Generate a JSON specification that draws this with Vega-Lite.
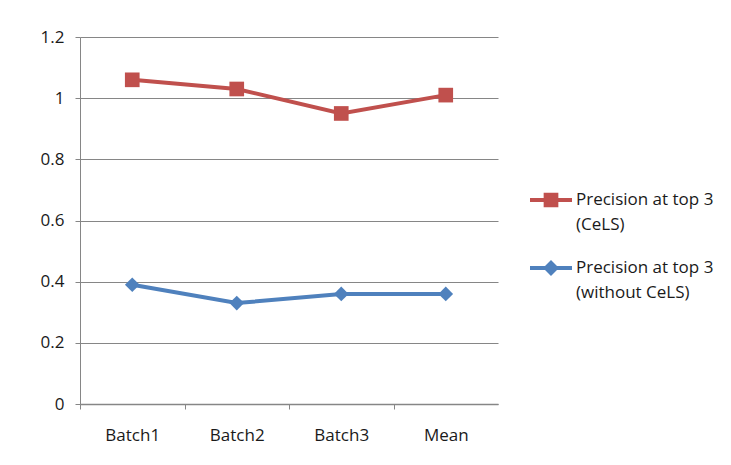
{
  "$schema": "https://vega.github.io/schema/vega-lite/v6.json",
  "width": 418,
  "height": 367,
  "autosize": "none",
  "padding": {"left": 80, "top": 37, "right": 233, "bottom": 61},
  "background": "white",
  "config": {
    "view": {"stroke": null},
    "font": "Open Sans",
    "axis": {"labelFont": "Open Sans", "labelFontSize": 17, "labelColor": "#1a1a1a", "domainColor": "#868686", "tickColor": "#868686", "gridColor": "#868686", "title": null}
  },
  "data": {
    "values": [
      {"batch": "Batch1", "series": "Precision at top 3 (CeLS)", "value": 1.06},
      {"batch": "Batch2", "series": "Precision at top 3 (CeLS)", "value": 1.03},
      {"batch": "Batch3", "series": "Precision at top 3 (CeLS)", "value": 0.95},
      {"batch": "Mean", "series": "Precision at top 3 (CeLS)", "value": 1.01},
      {"batch": "Batch1", "series": "Precision at top 3 (without CeLS)", "value": 0.39},
      {"batch": "Batch2", "series": "Precision at top 3 (without CeLS)", "value": 0.33},
      {"batch": "Batch3", "series": "Precision at top 3 (without CeLS)", "value": 0.36},
      {"batch": "Mean", "series": "Precision at top 3 (without CeLS)", "value": 0.36}
    ]
  },
  "encoding": {
    "x": {
      "field": "batch", "type": "nominal", "sort": null,
      "scale": {"type": "band", "paddingInner": 0, "paddingOuter": 0},
      "axis": {"labelAngle": 0, "tickSize": 5, "tickOffset": -52.25, "labelOffset": 52.25, "labelPadding": 18, "domainWidth": 1.5, "grid": false}
    },
    "y": {
      "field": "value", "type": "quantitative",
      "scale": {"domain": [0, 1.2], "nice": false},
      "axis": {"values": [0, 0.2, 0.4, 0.6, 0.8, 1, 1.2], "tickSize": 5, "labelPadding": 11, "grid": true, "gridWidth": 1, "domainWidth": 1, "format": "~g"}
    }
  },
  "layer": [
    {
      "mark": {"type": "line", "strokeWidth": 4},
      "encoding": {
        "color": {
          "field": "series", "type": "nominal",
          "scale": {"domain": ["Precision at top 3 (CeLS)", "Precision at top 3 (without CeLS)"], "range": ["#C0504D", "#4F81BD"]},
          "legend": {
            "orient": "none", "legendX": 450, "legendY": 142, "title": null,
            "labelFont": "Open Sans", "labelFontSize": 17, "labelColor": "#1a1a1a",
            "labelExpr": "[slice(datum.label, 0, 18), slice(datum.label, 19)]",
            "labelLimit": 300, "rowPadding": 14, "symbolSize": 1764, "labelOffset": 4,
            "encode": {
              "symbols": {
                "update": {
                  "shape": {"signal": "datum.value == 'Precision at top 3 (without CeLS)' ? 'M-1,-0.095H1V0.095H-1Z M0,-0.38L0.38,0L0,0.38L-0.38,0Z' : 'M-1,-0.095H1V0.095H-1Z M-0.35,-0.35H0.35V0.35H-0.35Z'"},
                  "fill": {"signal": "scale('color', datum.value)"},
                  "fillOpacity": {"value": 1},
                  "strokeWidth": {"value": 0}
                }
              },
              "labels": {"update": {"baseline": {"value": "top"}, "dy": {"value": -8}, "lineHeight": {"value": 25}}}
            }
          }
        }
      }
    },
    {
      "transform": [{"filter": "datum.series == 'Precision at top 3 (CeLS)'"}],
      "mark": {"type": "point", "filled": true, "opacity": 1, "shape": "square", "color": "#C0504D", "size": 215}
    },
    {
      "transform": [{"filter": "datum.series == 'Precision at top 3 (without CeLS)'"}],
      "mark": {"type": "point", "filled": true, "opacity": 1, "shape": "diamond", "color": "#4F81BD", "size": 215}
    }
  ]
}
